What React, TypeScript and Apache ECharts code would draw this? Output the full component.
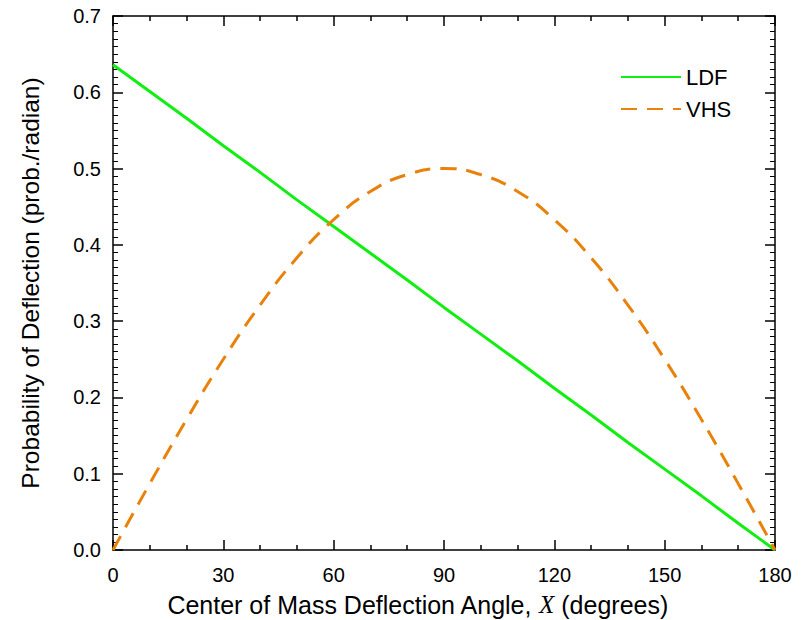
import React, { useEffect, useRef } from "react";
import * as echarts from "echarts";

const angles = [0, 10, 20, 30, 40, 50, 60, 70, 80, 90, 100, 110, 120, 130, 140, 150, 160, 170, 180];
const ldfValues = [0.636, 0.601, 0.566, 0.530, 0.495, 0.459, 0.424, 0.389, 0.354, 0.318, 0.283, 0.248, 0.212, 0.177, 0.141, 0.106, 0.071, 0.035, 0.0];
const vhsValues = [0.0, 0.087, 0.171, 0.25, 0.321, 0.383, 0.433, 0.47, 0.492, 0.5, 0.492, 0.47, 0.433, 0.383, 0.321, 0.25, 0.171, 0.087, 0.0];
const xTicks = [0, 30, 60, 90, 120, 150, 180];
const yTicks = [0, 0.1, 0.2, 0.3, 0.4, 0.5, 0.6, 0.7];

const FONT = "Liberation Sans, Arial, sans-serif";

export default function App() {
  const ref = useRef<HTMLDivElement>(null);
  useEffect(() => {
    if (!ref.current) return;
    const chart = echarts.init(ref.current, null, { renderer: "svg" });
    const axisLine = { show: true, onZero: false, lineStyle: { color: "#000", width: 1.5 } };
    const tick = { show: true, inside: true, length: 10, lineStyle: { color: "#000", width: 1.5 } };
    chart.setOption({
      animation: false,
      backgroundColor: "#fff",
      grid: { left: 113, right: 31, top: 16, bottom: 70, containLabel: false, outerBoundsMode: "none" },
      legend: {
        orient: "vertical",
        left: 615,
        top: 61,
        itemWidth: 60,
        itemHeight: 14,
        itemGap: 10,
        itemStyle: { opacity: 0 },
        textStyle: { fontFamily: FONT, fontSize: 22, color: "#000" },
        data: ["LDF", "VHS"],
      },
      xAxis: [
        {
          type: "value",
          min: 0,
          max: 180,
          interval: 30,
          axisLine,
          splitLine: { show: false },
          axisTick: tick,
          minorTick: { show: true, splitNumber: 3, length: 5, lineStyle: { color: "#000", width: 1.5 } },
          axisLabel: {
            fontFamily: FONT,
            fontSize: 20,
            color: "#000",
            margin: 15,
            formatter: (v: number) => (xTicks.includes(v) ? String(v) : ""),
          },
          name: "Center of Mass Deflection Angle, {i|X} (degrees)",
          nameLocation: "middle",
          nameGap: 42,
          nameTextStyle: {
            fontFamily: FONT,
            fontSize: 25,
            color: "#000",
            padding: [0, 53, 0, 0],
            rich: { i: { fontFamily: "Liberation Serif, serif", fontStyle: "italic", fontSize: 25, color: "#000" } },
          },
        },
        {
          type: "value",
          position: "top",
          min: 0,
          max: 180,
          interval: 30,
          axisLine,
          splitLine: { show: false },
          axisTick: tick,
          minorTick: { show: true, splitNumber: 3, length: 5, lineStyle: { color: "#000", width: 1.5 } },
          axisLabel: { show: false },
        },
      ],
      yAxis: [
        {
          type: "value",
          min: 0,
          max: 0.7,
          interval: 0.1,
          axisLine,
          splitLine: { show: false },
          axisTick: tick,
          minorTick: { show: true, splitNumber: 10, length: 5, lineStyle: { color: "#000", width: 1 } },
          axisLabel: {
            fontFamily: FONT,
            fontSize: 20,
            color: "#000",
            margin: 12,
            formatter: (v: number) => {
              const t = yTicks.find((k) => Math.abs(k - v) < 1e-6);
              return t === undefined ? "" : t.toFixed(1);
            },
          },
          name: "Probability of Deflection (prob./radian)",
          nameLocation: "middle",
          nameGap: 70,
          nameTextStyle: { fontFamily: FONT, fontSize: 24.5, color: "#000" },
        },
        {
          type: "value",
          position: "right",
          min: 0,
          max: 0.7,
          interval: 0.1,
          axisLine,
          splitLine: { show: false },
          axisTick: tick,
          minorTick: { show: true, splitNumber: 10, length: 5, lineStyle: { color: "#000", width: 1 } },
          axisLabel: { show: false },
        },
      ],
      series: [
        {
          name: "LDF",
          type: "line",
          xAxisIndex: 0,
          yAxisIndex: 0,
          data: angles.map((a, i) => [a, ldfValues[i]]),
          showSymbol: false,
          symbol: "none",
          color: "#11ee11",
          lineStyle: { color: "#11ee11", width: 3 },
        },
        {
          name: "VHS",
          type: "line",
          xAxisIndex: 0,
          yAxisIndex: 0,
          data: angles.map((a, i) => [a, vhsValues[i]]),
          smooth: true,
          showSymbol: false,
          symbol: "none",
          color: "#e8820c",
          lineStyle: { color: "#e8820c", width: 3, type: [16, 10] },
        },
      ],
    });
    return () => chart.dispose();
  }, []);
  return (
    <div
      ref={ref}
      style={{ position: "absolute", left: 0, top: 0, width: 806, height: 620 }}
    />
  );
}
